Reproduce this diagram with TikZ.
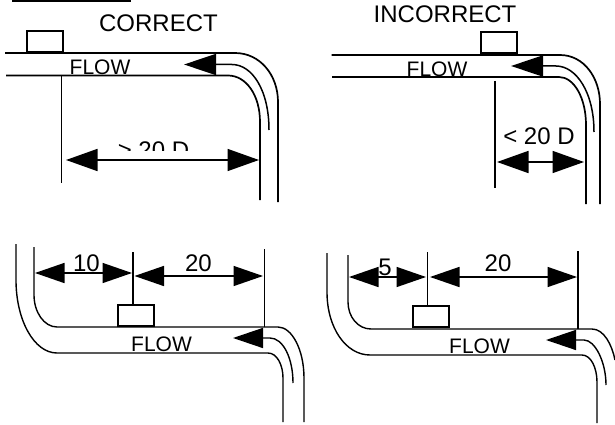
\documentclass[tikz,border=0pt]{standalone}
\usepackage{fontspec}
\setmainfont{Liberation Sans}
\usetikzlibrary{arrows.meta}
\tikzset{
  pipe/.style={line width=1.7pt,line cap=butt},
  thin pipe/.style={line width=1.4pt},
  gauge/.style={draw,line width=1.7pt,minimum width=36pt,minimum height=21pt,inner sep=0pt,anchor=south west},
  refline/.style={line width=1.7pt},
  dimline/.style={line width=1.6pt,{Triangle[length=31.5pt,width=22pt]}-{Triangle[length=31.5pt,width=22pt]}},
  dimlow/.style={line width=1.5pt,{Triangle[length=29.5pt,width=20pt]}-{Triangle[length=29.5pt,width=20pt]}},
  flowline/.style={line width=1.5pt,-{Triangle[length=32pt,width=21pt]}},
  flowlow/.style={line width=1.4pt,-{Triangle[length=30pt,width=20pt]}},
  lab/.style={font=\fontsize{24}{28}\selectfont,inner sep=0pt,anchor=base},
  flowlab/.style={font=\fontsize{21}{24}\selectfont,inner sep=0pt,anchor=base}
}
\begin{document}
\begin{tikzpicture}[x=1pt,y=-1pt]
\useasboundingbox (0,0) rectangle (615,425);
\fill (12,0) rectangle (131,1.8);

% --- top left
\node[lab] (tCorrect) at (158.5,32) {CORRECT};
\draw[pipe] (5,53) -- (235,53) .. controls (260,53) and (278,75) .. (278,102) -- (278,202);
\draw[pipe] (6,75.5) -- (228,75.5) .. controls (246,75.5) and (260,95) .. (260,122) -- (260,200);
\node[gauge] (g1) at (26,53) {};
\coordinate (a1) at (269,130);
\coordinate (a1e) at (184,64.5);
\draw[flowline] (a1) .. controls (269,90) and (252,64.5) .. (232,64.5) -- (a1e);
\coordinate (r1t) at (61.5,76);
\coordinate (r1b) at (61.5,183);
\draw[refline] (r1t) -- (r1b);
\coordinate (d1l) at (66,160);
\coordinate (d1r) at (259,160);
\draw[dimline] (d1l) -- (d1r);
\begin{scope}
\clip (60,50) rectangle (140,75);
\node[flowlab] (fl1) at (100,75) {FLOW};
\end{scope}
\begin{scope}
\clip (110,125) rectangle (200,150);
\node[lab] (gt) at (153.5,158) {> 20 D};
\end{scope}

% --- top right
\node[lab] (tInc) at (445,23) {INCORRECT};
\draw[pipe] (331.5,55) -- (560,55) .. controls (584,55) and (600,78) .. (600,104) -- (600,204);
\draw[pipe] (332,77) -- (559,77) .. controls (574,77) and (586,98) .. (586,125) -- (586,204);
\node[gauge] (g2) at (480,54) {};
\coordinate (a2) at (594,132);
\coordinate (a2e) at (511,66);
\draw[flowline] (a2) .. controls (594,92) and (576,66) .. (556,66) -- (a2e);
\coordinate (r2t) at (495,81);
\coordinate (r2b) at (495,188);
\draw[refline] (r2t) -- (r2b);
\coordinate (d2l) at (497,162);
\coordinate (d2r) at (584,162);
\draw[dimline] (d2l) -- (d2r);
\begin{scope}
\clip (400,50) rectangle (480,76);
\node[flowlab] (fl2) at (437,77) {FLOW};
\end{scope}
\node[lab] (lt) at (539,144) {< 20 D};

% --- bottom left
\draw[thin pipe] (16,244) -- (16,280) .. controls (16,320) and (34,353) .. (57,353) -- (268,353) .. controls (277,353) and (283,365) .. (283,378) -- (283,422);
\draw[thin pipe] (34,247) -- (34,295) .. controls (34,312) and (44,327) .. (57,327) -- (278,327) .. controls (292,327) and (304,350) .. (304,378) -- (304,422);
\node[gauge] (g3) at (117,326.5) {};
\coordinate (a3) at (293,383);
\coordinate (a3e) at (233,338);
\draw[flowlow] (a3) .. controls (293,358) and (283,338) .. (270,338) -- (a3e);
\coordinate (r3t) at (133,252);
\draw[refline] (r3t) -- (g3.north -| r3t);
\coordinate (r3at) at (264.5,249);
\coordinate (r3ab) at (264.5,327);
\draw[refline] (r3at) -- (r3ab);
\coordinate (d3a) at (35,273);
\coordinate (d3b) at (132,273);
\coordinate (d3c) at (134.5,276);
\coordinate (d3d) at (263,276);
\draw[dimlow] (d3a) -- (d3b);
\draw[dimlow] (d3c) -- (d3d);
\node[lab] (n10) at (86.5,271) {10};
\node[lab] (n20a) at (198.5,271) {20};
\node[flowlab] (fl3) at (161.5,351) {FLOW};

% --- bottom right
\draw[thin pipe] (327,253) -- (327,292) .. controls (327,328) and (346,355) .. (370,355) -- (582,355) .. controls (591,355) and (597,368) .. (597,382) -- (597,423);
\draw[thin pipe] (348,255) -- (348,302) .. controls (348,317) and (358,329) .. (371,329) -- (592,329) .. controls (604,329) and (612,345) .. (615,360);
\node[gauge] (g4) at (412,328) {};
\coordinate (a4) at (606,385);
\coordinate (a4e) at (546,340);
\draw[flowlow] (a4) .. controls (606,362) and (595,340) .. (584,340) -- (a4e);
\coordinate (r4t) at (427.5,252);
\draw[refline] (r4t) -- (g4.north -| r4t);
\coordinate (r4at) at (578,251);
\coordinate (r4ab) at (578,329);
\draw[refline] (r4at) -- (r4ab);
\coordinate (d4a) at (349,277);
\coordinate (d4b) at (426,277);
\coordinate (d4c) at (430,277);
\coordinate (d4d) at (577,277);
\draw[dimlow] (d4a) -- (d4b);
\draw[dimlow] (d4c) -- (d4d);
\node[lab] (n5) at (385,275) {5};
\node[lab] (n20b) at (498,271) {20};
\node[flowlab] (fl4) at (479.5,353) {FLOW};
\end{tikzpicture}
\end{document}
